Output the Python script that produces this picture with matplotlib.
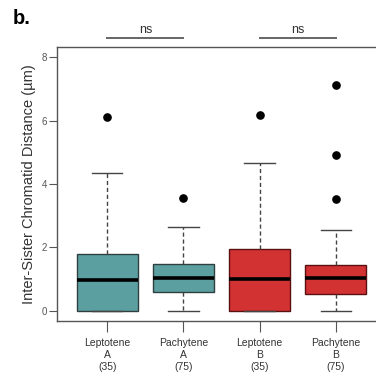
import matplotlib.pyplot as plt

plt.rcParams['font.family'] = ['Liberation Sans', 'DejaVu Sans']

# box statistics (µm)
groups = ['Leptotene\nA\n(35)', 'Pachytene\nA\n(75)', 'Leptotene\nB\n(35)', 'Pachytene\nB\n(75)']
q1 = [0.0, 0.58, 0.0, 0.54]
med = [0.98, 1.05, 1.0, 1.04]
q3 = [1.80, 1.49, 1.96, 1.46]
whislo = [0.0, 0.0, 0.0, 0.0]
whishi = [4.36, 2.65, 4.65, 2.55]
fliers = [[6.12], [3.55], [6.16], [3.53, 4.92, 7.11]]
colors = ['#5b9fa0', '#5b9fa0', '#d33232', '#d33232']
edges = ['#2f3f3f', '#2f3f3f', '#5a1010', '#5a1010']

stats = []
for i in range(len(groups)):
    stats.append(dict(q1=q1[i], med=med[i], q3=q3[i], whislo=whislo[i],
                      whishi=whishi[i], fliers=fliers[i]))

fig = plt.figure(figsize=(3.76, 3.78), dpi=100)
ax = fig.add_axes([0.1516, 0.1508, 0.875, 0.7249])

pos = [1, 2, 3, 4]
for i in range(4):
    ax.bxp([stats[i]], positions=[pos[i]], widths=0.8, patch_artist=True,
           boxprops=dict(facecolor=colors[i], edgecolor=edges[i], linewidth=1.0),
           medianprops=dict(color='black', linewidth=2.6),
           whiskerprops=dict(color='#444444', linestyle=(0, (3, 2)), linewidth=1.0),
           capprops=dict(color='#444444', linewidth=1.0), capwidths=0.4,
           flierprops=dict(marker='o', markerfacecolor='black', markeredgecolor='black',
                           markersize=5.2))

ax.set_xlim(0.34, 4.66)
ax.set_ylim(-0.32, 8.32)
ax.set_yticks([0, 2, 4, 6, 8])
ax.set_xticks(pos)
ax.set_xticklabels(groups, fontsize=7.5, color='#333333', linespacing=1.3)
ax.tick_params(axis='y', labelsize=7, colors='#555555', length=6, width=0.8, pad=1)
ax.tick_params(axis='x', length=8, width=0.8, colors='#555555', pad=4)
for lbl in ax.get_xticklabels():
    lbl.set_color('#333333')
for s in ax.spines.values():
    s.set_color('#555555')
    s.set_linewidth(1.0)
ax.spines['right'].set_visible(False)

ax.set_ylabel('Inter-Sister Chromatid Distance (µm)', fontsize=10.5, color='#333333', labelpad=4)

# significance bars
for a, b in [(1, 2), (3, 4)]:
    ax.plot([a, b], [8.6, 8.6], color='#666666', linewidth=1.4, clip_on=False)
    ax.text((a + b) / 2, 8.68, 'ns', ha='center', va='bottom', fontsize=9, color='#333333')

fig.text(0.035, 0.925, 'b.', fontsize=14.5, fontweight='bold', ha='left', va='bottom')

fig.savefig('out.png', dpi=100)
